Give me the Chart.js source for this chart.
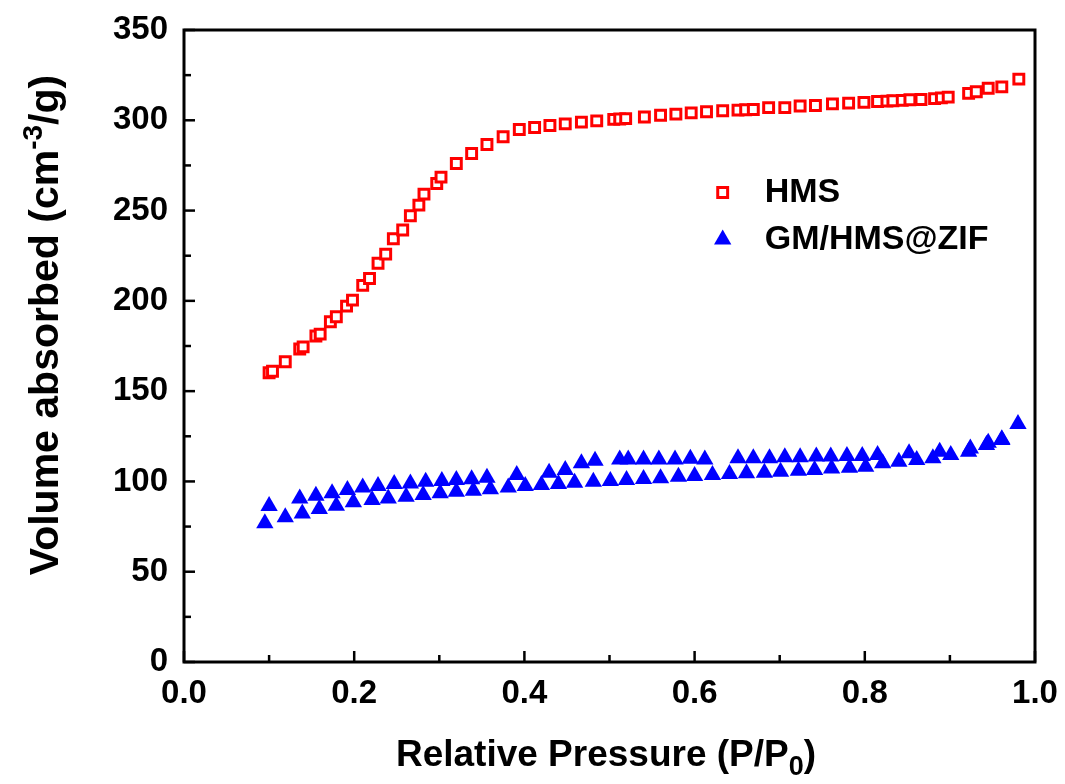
<!DOCTYPE html>
<html lang="en">
<head>
    <meta charset="UTF-8">
    <title>Nitrogen adsorption isotherms</title>
    <script src="https://cdn.jsdelivr.net/npm/chart.js"></script>
    <style>
        html, body { margin: 0; padding: 0; background: #fff; }
        #wrap { width: 1065px; height: 784px; }
    </style>
</head>
<body>
    <div id="wrap"><canvas id="isoChart"></canvas></div>

    <script>
        // HMS isotherm (open red squares)
        const hmsX = [0.100, 0.104, 0.119, 0.136, 0.140, 0.155, 0.160, 0.172, 0.179, 0.191, 0.198, 0.210, 0.218, 0.228,
            0.237, 0.246, 0.257, 0.266, 0.276, 0.282, 0.297, 0.302, 0.320, 0.338, 0.356, 0.375, 0.394, 0.412, 0.430,
            0.448, 0.467, 0.485, 0.505, 0.512, 0.519, 0.541, 0.560, 0.578, 0.596, 0.614, 0.633, 0.651, 0.660, 0.669,
            0.687, 0.706, 0.724, 0.742, 0.762, 0.781, 0.799, 0.815, 0.826, 0.833, 0.844, 0.853, 0.866, 0.882, 0.890,
            0.898, 0.922, 0.931, 0.945, 0.961, 0.981];
        const hmsY = [160.2, 161.0, 166.3, 173.3, 174.5, 180.5, 181.6, 188.4, 191.2, 197.1, 200.4, 208.6, 212.4, 220.8,
            225.9, 234.4, 239.2, 247.1, 253.0, 259.1, 265.0, 268.5, 276.1, 281.6, 286.6, 290.9, 294.9, 296.0, 297.1,
            298.0, 299.0, 299.7, 300.5, 300.7, 300.9, 301.8, 302.8, 303.4, 304.1, 304.7, 305.3, 305.6, 305.8, 306.0,
            307.0, 307.0, 307.9, 308.2, 309.1, 309.5, 309.9, 310.4, 310.6, 310.8, 311.0, 311.4, 311.5, 312.0, 312.4,
            312.8, 314.9, 315.8, 317.7, 318.5, 322.8];

        // GM/HMS@ZIF isotherm (blue triangles), lower then upper branch
        const zifX = [0.095, 0.119, 0.139, 0.159, 0.179, 0.199, 0.221, 0.240, 0.261, 0.281, 0.301, 0.320, 0.340, 0.360,
            0.381, 0.401, 0.420, 0.440, 0.459, 0.481, 0.501, 0.520, 0.540, 0.560, 0.581, 0.600, 0.621, 0.641, 0.661,
            0.682, 0.701, 0.722, 0.741, 0.761, 0.782, 0.801, 0.821, 0.840, 0.861, 0.880, 0.901, 0.922, 0.943, 0.961,
            0.100, 0.136, 0.155, 0.174, 0.192, 0.210, 0.228, 0.247, 0.266, 0.284, 0.303, 0.320, 0.338, 0.356, 0.391,
            0.429, 0.448, 0.467, 0.483, 0.512, 0.522, 0.540, 0.558, 0.577, 0.595, 0.612, 0.651, 0.669, 0.688, 0.706,
            0.724, 0.743, 0.760, 0.779, 0.797, 0.815, 0.852, 0.888, 0.924, 0.945, 0.961, 0.980];
        const zifY = [76.8, 80.1, 82.3, 84.7, 86.5, 88.4, 89.7, 90.6, 91.5, 92.5, 93.4, 94.3, 94.8, 95.6,
            96.7, 97.5, 98.0, 98.6, 99.3, 99.8, 100.2, 100.8, 101.3, 101.7, 102.6, 103.0, 103.5, 104.1, 104.5,
            104.8, 105.4, 105.9, 106.3, 107.2, 107.6, 108.1, 110.0, 110.9, 111.8, 112.8, 114.6, 116.4, 120.2, 122.9,
            86.4, 90.6, 92.1, 93.4, 95.2, 96.7, 97.5, 98.6, 98.9, 99.8, 100.2, 100.8, 101.2, 102.0, 103.5,
            104.8, 106.3, 110.0, 111.5, 112.2, 112.2, 112.2, 112.2, 112.2, 112.6, 112.2, 112.8, 112.8, 112.8, 113.4,
            113.4, 113.8, 113.8, 114.1, 114.1, 114.7, 115.6, 116.5, 118.3, 121.4, 123.3, 131.8];

        const seriesNames = ['HMS', 'GM/HMS@ZIF'];
        const xTicks = [0.0, 0.2, 0.4, 0.6, 0.8, 1.0];
        const yTicks = [0, 50, 100, 150, 200, 250, 300, 350];

        const FAMILY = '"Liberation Sans", Arial, sans-serif';

        function toPoints(xs, ys) {
            return xs.map((x, i) => ({ x: x, y: ys[i] }));
        }

        // draws a run of text pieces ([text, font, dy]) starting at x
        function drawParts(ctx, parts, x, y) {
            parts.forEach(p => {
                ctx.font = p[1];
                ctx.fillText(p[0], x, y + p[2]);
                x += ctx.measureText(p[0]).width;
            });
        }
        function partsWidth(ctx, parts) {
            let w = 0;
            parts.forEach(p => { ctx.font = p[1]; w += ctx.measureText(p[0]).width; });
            return w;
        }

        // frame, inward ticks, legend and axis titles
        const decorations = {
            id: 'decorations',
            afterDraw(chart) {
                const ctx = chart.ctx;
                const a = chart.chartArea;
                const xs = chart.scales.x;
                const ys = chart.scales.y;
                ctx.save();
                ctx.strokeStyle = '#000';
                ctx.lineWidth = 2.5;
                // minor + major ticks pointing inward
                for (let v = 0; v <= 1.0001; v += 0.1) {
                    const px = xs.getPixelForValue(v);
                    const major = Math.round(v * 10) % 2 === 0;
                    ctx.beginPath();
                    ctx.moveTo(px, a.bottom);
                    ctx.lineTo(px, a.bottom - (major ? 11 : 7));
                    ctx.stroke();
                }
                for (let v = 0; v <= 350; v += 25) {
                    const py = ys.getPixelForValue(v);
                    const major = v % 50 === 0;
                    ctx.beginPath();
                    ctx.moveTo(a.left, py);
                    ctx.lineTo(a.left + (major ? 11 : 7), py);
                    ctx.stroke();
                }
                ctx.lineWidth = 3;
                ctx.strokeRect(a.left, a.top, a.right - a.left, a.bottom - a.top);

                // legend
                const ds = chart.data.datasets;
                const lx = xs.getPixelForValue(0.633);
                [0, 1].forEach(i => {
                    const ly = ys.getPixelForValue(i === 0 ? 260 : 234);
                    const d = ds[i];
                    ctx.fillStyle = d.backgroundColor;
                    ctx.strokeStyle = d.borderColor;
                    ctx.lineWidth = d.borderWidth;
                    Chart.helpers.drawPoint(ctx, {
                        pointStyle: d.pointStyle,
                        radius: d.pointRadius,
                        borderWidth: d.borderWidth
                    }, lx, ly);
                    ctx.fillStyle = '#000';
                    ctx.font = 'bold 34px ' + FAMILY;
                    ctx.textAlign = 'left';
                    ctx.textBaseline = 'middle';
                    ctx.fillText(seriesNames[i], lx + 42, ly);
                });

                // x title with subscript
                ctx.fillStyle = '#000';
                ctx.textBaseline = 'alphabetic';
                ctx.textAlign = 'left';
                const xBig = 'bold 37px ' + FAMILY;
                const xSmall = 'bold 27px ' + FAMILY;
                const xParts = [['Relative Pressure (P/P', xBig, 0], ['0', xSmall, 9], [')', xBig, 0]];
                const xw = partsWidth(ctx, xParts);
                drawParts(ctx, xParts, 606 - xw / 2, 766);

                // y title with superscript
                const yBig = 'bold 41px ' + FAMILY;
                const ySmall = 'bold 28px ' + FAMILY;
                const yParts = [['Volume absorbed (cm', yBig, 0], ['-3', ySmall, -16], ['/g)', yBig, 0]];
                ctx.translate(58, 325);
                ctx.rotate(-Math.PI / 2);
                const yw = partsWidth(ctx, yParts);
                drawParts(ctx, yParts, -yw / 2, 0);
                ctx.restore();
            }
        };

        const ctx = document.getElementById('isoChart').getContext('2d');
        new Chart(ctx, {
            type: 'scatter',
            data: {
                datasets: [{
                    label: seriesNames[0],
                    data: toPoints(hmsX, hmsY),
                    pointStyle: 'rect',
                    pointRadius: 7,
                    borderWidth: 3,
                    borderColor: '#ff0000',
                    backgroundColor: '#ffffff'
                }, {
                    label: seriesNames[1],
                    data: toPoints(zifX, zifY),
                    pointStyle: 'triangle',
                    pointRadius: 10,
                    borderWidth: 0,
                    borderColor: '#0000ff',
                    backgroundColor: '#0000ff'
                }]
            },
            options: {
                responsive: true,
                maintainAspectRatio: false,
                animation: false,
                layout: { padding: { top: 30, right: 30, left: 0, bottom: 0 } },
                plugins: { legend: { display: false }, tooltip: { enabled: false } },
                scales: {
                    x: {
                        type: 'linear',
                        min: 0, max: 1,
                        afterFit(s) { s.height = 122; s.paddingLeft = 0; s.paddingRight = 0; },
                        afterBuildTicks(s) { s.ticks = xTicks.map(v => ({ value: v })); },
                        grid: { display: false, drawTicks: false },
                        border: { display: false },
                        ticks: {
                            padding: 12,
                            color: '#000',
                            font: { family: FAMILY, size: 33, weight: 'bold' },
                            callback: v => v.toFixed(1)
                        }
                    },
                    y: {
                        min: 0, max: 350,
                        afterFit(s) { s.width = 184; s.paddingTop = 0; s.paddingBottom = 0; },
                        afterBuildTicks(s) { s.ticks = yTicks.map(v => ({ value: v })); },
                        grid: { display: false, drawTicks: false },
                        border: { display: false },
                        ticks: {
                            padding: 16,
                            color: '#000',
                            font: { family: FAMILY, size: 33, weight: 'bold' }
                        }
                    }
                }
            },
            plugins: [decorations]
        });
    </script>
</body>
</html>
